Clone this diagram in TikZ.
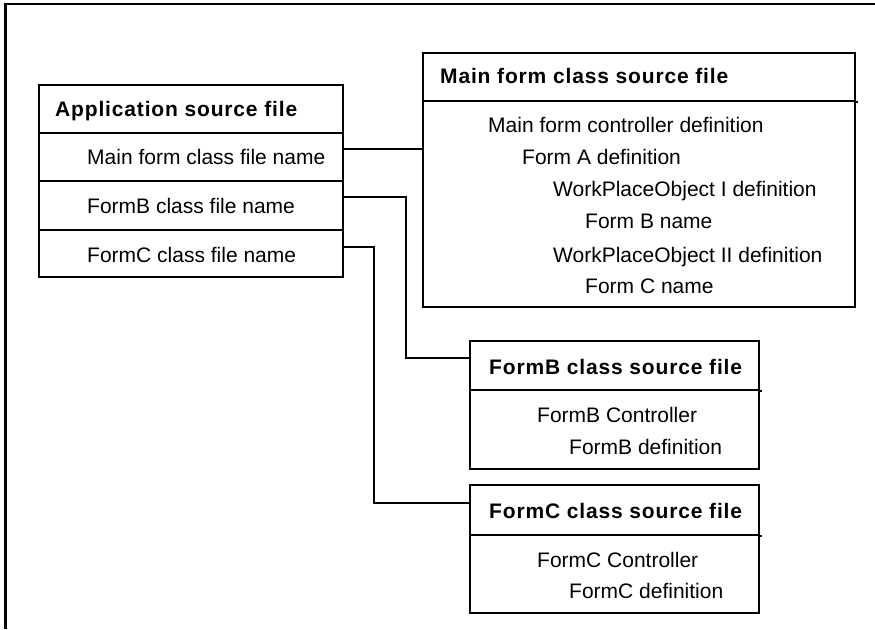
\documentclass[tikz,border=0pt]{standalone}
\usepackage{fontspec}
\setmainfont{Liberation Sans}
\newfontfamily\hdfont{Liberation Sans}[LetterSpace=4]
\begin{document}
\begin{tikzpicture}[x=1pt,y=-1pt,
  box/.style={draw=black, line width=1.8pt, anchor=north west, inner sep=0pt, minimum width=#1},
  lbl/.style={anchor=base west, inner sep=0pt, font=\fontsize{21}{24}\selectfont},
  hdr/.style={anchor=base west, inner sep=0pt, font=\fontsize{21}{24}\selectfont\hdfont\bfseries},
  wire/.style={draw=black, line width=1.8pt}]
\useasboundingbox (0,0) rectangle (875,629);
% outer frame (top and left edges)
\draw[line width=2.2pt] (5.5,629) -- (5.5,4) -- (875,4);

% Application source file
\node[box=304pt, minimum height=48pt] (apph) at (38,84) {};
\node[box=304pt, minimum height=48pt] (appr1) at (38,132) {};
\node[box=304pt, minimum height=49pt] (appr2) at (38,180) {};
\node[box=304pt, minimum height=47pt] (appr3) at (38,229) {};
\node[hdr] (tapph) at (55,116) {Application source file};
\node[lbl] (tappr1) at (87,164) {Main form class file name};
\node[lbl] (tappr2) at (87,213) {FormB class file name};
\node[lbl] (tappr3) at (87,262) {FormC class file name};

% Main form class source file
\node[box=432pt, minimum height=48pt] (mainh) at (422,52) {};
\node[box=432pt, minimum height=206pt] (mainb) at (422,100) {};
\draw[wire] (mainh.south east) -- ++(2.5,0);
\node[hdr] (tmainh) at (440,83) {Main form class source file};
\node[lbl] (tm1) at (488,132) {Main form controller definition};
\node[lbl] (tm2) at (522,164) {Form A definition};
\node[lbl] (tm3) at (553,196) {WorkPlaceObject I definition};
\node[lbl] (tm4) at (585,228) {Form B name};
\node[lbl] (tm5) at (553,262) {WorkPlaceObject II definition};
\node[lbl] (tm6) at (585,293) {Form C name};

% FormB class source file
\node[box=289pt, minimum height=49pt] (fbh) at (469,340) {};
\node[box=289pt, minimum height=79pt] (fbb) at (469,389) {};
\draw[wire] (fbh.south east) -- ++(2.5,0);
\node[hdr] (tfbh) at (489,374) {FormB class source file};
\node[lbl] (tfb1) at (537,422) {FormB Controller};
\node[lbl] (tfb2) at (569,454) {FormB definition};

% FormC class source file
\node[box=289pt, minimum height=50pt] (fch) at (469,484) {};
\node[box=289pt, minimum height=78pt] (fcb) at (469,534) {};
\draw[wire] (fch.south east) -- ++(2.5,0);
\node[hdr] (tfch) at (489,518) {FormC class source file};
\node[lbl] (tfc1) at (537,567) {FormC Controller};
\node[lbl] (tfc2) at (569,598) {FormC definition};

% connectors
\draw[wire] ([yshift=8.3pt]appr1.east) coordinate (s1) -- (s1 -| mainb.west);
\draw[wire] ([yshift=8.5pt]appr2.east) -| ([xshift=-63pt,yshift=7.5pt]fbh.west) -- ([yshift=7.5pt]fbh.west);
\draw[wire] ([yshift=6.5pt]appr3.east) -| ([xshift=-95pt,yshift=7pt]fch.west) -- ([yshift=7pt]fch.west);
\end{tikzpicture}
\end{document}
